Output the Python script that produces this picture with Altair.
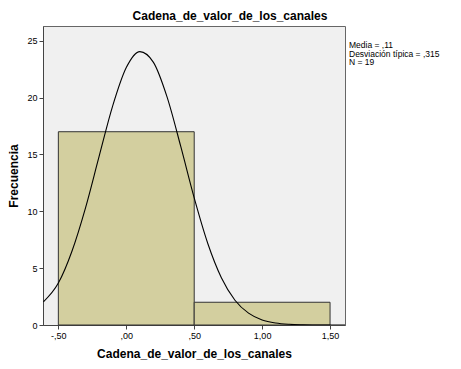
import altair as alt
import pandas as pd

# Histogram bins
bin_start = [-0.5, 0.5]
bin_end = [0.5, 1.5]
bin_count = [17, 2]

# Normal curve
curve_x = [-0.61, -0.5, -0.4, -0.3, -0.2, -0.1, 0.0, 0.1, 0.2, 0.3, 0.4, 0.5,
           0.6, 0.7, 0.8, 0.9, 1.0, 1.1, 1.2, 1.3, 1.4, 1.5, 1.61]
curve_y = [2.04, 3.69, 6.49, 10.31, 14.83, 19.27, 22.64, 24.05, 23.10, 20.06, 15.75, 11.18,
           7.17, 4.16, 2.18, 1.04, 0.44, 0.17, 0.06, 0.02, 0.005, 0.001, 0.0]

x_tick_values = [-0.5, 0.0, 0.5, 1.0, 1.5]
x_tick_labels = ["-,50", ",00", ",50", "1,00", "1,50"]
y_tick_values = [0, 5, 10, 15, 20, 25]

stats_lines = ["Media = ,11", "Desviación típica = ,315", "N = 19"]

title_text = "Cadena_de_valor_de_los_canales"
x_title = "Cadena_de_valor_de_los_canales"
y_title = "Frecuencia"

FONT = "Liberation Sans"

bars_df = pd.DataFrame({"x0": bin_start, "x1": bin_end, "n": bin_count})
curve_df = pd.DataFrame({"x": curve_x, "y": curve_y})

xdom = [-0.613, 1.61]
ydom = [0, 26.3]

label_expr = "[" + ",".join("'%s'" % s for s in x_tick_labels) + "][indexof([" + \
    ",".join(str(v) for v in x_tick_values) + "], datum.value)]"

xscale = alt.Scale(domain=xdom, nice=False, zero=False)
yscale = alt.Scale(domain=ydom, nice=False)

x_axis = alt.Axis(values=x_tick_values, labelExpr=label_expr, title=x_title,
                  grid=False, tickSize=4, labelFontSize=9, titleFontSize=12,
                  titleFontWeight="bold", titlePadding=8, domainColor="#444444",
                  tickColor="#444444", labelColor="#000000", labelFont=FONT, titleFont=FONT)
y_axis = alt.Axis(values=y_tick_values, title=y_title, grid=False, tickSize=4,
                  labelFontSize=9, titleFontSize=12, titleFontWeight="bold",
                  titlePadding=6, domainColor="#444444", tickColor="#444444",
                  labelColor="#000000", labelFont=FONT, titleFont=FONT)

bars = alt.Chart(bars_df).mark_rect(fill="#d3cf9f", stroke="#333333", strokeWidth=1).encode(
    x=alt.X("x0:Q", scale=xscale, axis=x_axis),
    x2="x1:Q",
    y=alt.Y("n:Q", scale=yscale, axis=y_axis),
    y2=alt.datum(0),
)

curve = alt.Chart(curve_df).mark_line(color="#000000", strokeWidth=1.1,
                                      interpolate="monotone", clip=True).encode(
    x=alt.X("x:Q", scale=xscale),
    y=alt.Y("y:Q", scale=yscale),
)

stats = alt.Chart(pd.DataFrame({"t": ["\n".join(stats_lines)]})).mark_text(
    align="left", baseline="top", font=FONT, fontSize=8.5, lineBreak="\n",
    lineHeight=8.5, color="#000000"
).encode(x=alt.value(306), y=alt.value(15), text="t:N")

chart = alt.layer(bars, curve, stats).properties(
    width=302, height=299,
    background="#ffffff",
    title=alt.TitleParams(title_text, fontSize=12, fontWeight="bold", font=FONT,
                          anchor="middle", dx=36, offset=3, color="#000000"),
    autosize=alt.AutoSizeParams(type="none"),
    padding={"left": 35, "top": 18, "right": 108, "bottom": 36},
).configure_view(fill="#f0f0f0", stroke="#666666", strokeWidth=1)

chart.save("out.html", embed_options={"renderer": "svg", "actions": False})
